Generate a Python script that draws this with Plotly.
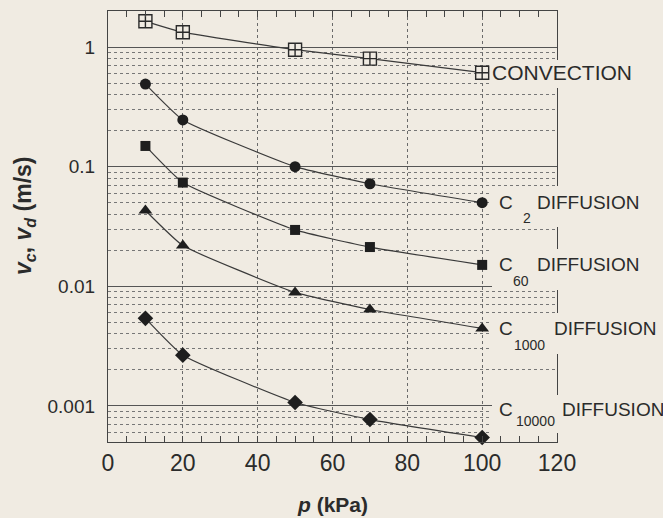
import numpy as np
import plotly.graph_objects as go

# ---- data ----
pressure_kpa = [10, 20, 50, 70, 100]
convection = [1.64, 1.33, 0.95, 0.80, 0.61]
c2_diffusion = [0.49, 0.246, 0.100, 0.072, 0.050]
c60_diffusion = [0.149, 0.0736, 0.0296, 0.0213, 0.0151]
c1000_diffusion = [0.043, 0.0219, 0.0089, 0.0064, 0.00445]
c10000_diffusion = [0.0054, 0.00266, 0.00107, 0.00077, 0.000545]

x_ticks = [0, 20, 40, 60, 80, 100, 120]
y_ticks = [0.001, 0.01, 0.1, 1]
y_tick_text = ["0.001", "0.01", "0.1", "1"]

BG = "#f0ebe2"
INK = "#2b2b2b"
FONT = "Liberation Sans, Arial, Helvetica, sans-serif"

# plot-area geometry in pixels
L, R, T, B = 108, 557, 11, 442
W, H = 663, 518

fig = go.Figure()

series = [
    ("CONVECTION", convection, "square-cross", 13, True),
    ("C2", c2_diffusion, "circle", 11, False),
    ("C60", c60_diffusion, "square", 10, False),
    ("C1000", c1000_diffusion, "triangle-up", 12, False),
    ("C10000", c10000_diffusion, "diamond", 12, False),
]
for name, vals, sym, size, hollow in series:
    fig.add_trace(go.Scatter(
        x=pressure_kpa, y=vals, mode="lines+markers", name=name,
        line=dict(color="#3a3a3a", width=1.2, shape="spline", smoothing=0.4),
        marker=dict(symbol=sym, size=size,
                    color=BG if hollow else "#1e1e1e",
                    line=dict(color="#2a2a2a", width=1.4 if hollow else 0)),
        cliponaxis=False, showlegend=False,
    ))

# minor log grid values
minor_vals = []
for e in range(-4, 1):
    for k in range(2, 10):
        v = k * 10.0 ** e
        if 0.0005 <= v <= 2.0:
            minor_vals.append(v)

fig.update_layout(
    width=W, height=H,
    margin=dict(l=L, r=W - R, t=T, b=H - B),
    paper_bgcolor=BG, plot_bgcolor=BG,
    font=dict(family=FONT, color=INK),
    xaxis=dict(
        range=[0, 120], tickvals=x_ticks, ticktext=[str(v) for v in x_ticks],
        tickfont=dict(size=23, color=INK),
        showgrid=True, gridcolor="#6a6a6a", griddash="dot", gridwidth=1,
        showline=True, linecolor="#444", linewidth=1.3, mirror="ticks",
        ticks="inside", ticklen=6, tickcolor="#444",
        minor=dict(dtick=5, ticks="inside", ticklen=6, tickcolor="#444", showgrid=False),
        zeroline=False,
    ),
    yaxis=dict(
        type="log", range=[np.log10(0.0005), np.log10(2)],
        tickvals=y_ticks, ticktext=y_tick_text,
        tickfont=dict(size=19, color=INK), ticklabelstandoff=8,
        showgrid=True, gridcolor="#555", gridwidth=1.3,
        showline=True, linecolor="#444", linewidth=1.3, mirror="ticks",
        ticks="",
        minor=dict(tickvals=minor_vals, showgrid=True, gridcolor="#777",
                   griddash="dot", gridwidth=1, ticks=""),
        zeroline=False,
    ),
)


def px2x(px):
    return (px - L) / (R - L)


def py2paper(py):
    return (B - py) / (B - T)


# label covers (paper-coloured boxes behind the series labels)
for top, bot in [(60, 88), (186, 227), (249, 290), (313, 354), (395, 433)]:
    fig.add_shape(type="rect", xref="paper", yref="paper",
                  x0=px2x(492), x1=1.3, y0=py2paper(bot), y1=py2paper(top),
                  fillcolor=BG, line=dict(width=0), layer="above")

lab_font = dict(family=FONT, size=19, color=INK)
sub_font = dict(family=FONT, size=14, color=INK)


def ann(xpx, y, text, font, yshift=0):
    fig.add_annotation(x=px2x(xpx), y=y, xref="paper", yref="y", text=text,
                       showarrow=False, xanchor="left", yanchor="middle",
                       font=font, yshift=yshift)


ann(490, np.log10(convection[-1]), "CONVECTION", dict(family=FONT, size=21, color=INK))

label_rows = [
    (c2_diffusion[-1], "2", 521, -15, 535, 0),
    (c60_diffusion[-1], "60", 511, -16, 535, 0),
    (c1000_diffusion[-1], "1000", 512, -17, 552, 0),
    (0.001, "10000", 514, -11, 560, -4),
]
for yv, sub, xsub, subshift, xdiff, ys in label_rows:
    ann(497, np.log10(yv), "C", lab_font, ys)
    ann(xsub, np.log10(yv), sub, sub_font, ys + subshift)
    ann(xdiff, np.log10(yv), "DIFFUSION", lab_font, ys)

# axis titles
fig.add_annotation(
    xref="paper", yref="paper", x=px2x(24), y=py2paper(216),
    text="<b><i>v</i></b><sub><b><i>c</i></b></sub><b>, <i>v</i></b><sub><b><i>d</i></b></sub><b> (m/s)</b>",
    textangle=-90, showarrow=False, xanchor="center", yanchor="middle",
    font=dict(family=FONT, size=23, color=INK),
)
fig.add_annotation(
    xref="paper", yref="paper", x=0.5, y=py2paper(504),
    text="<b><i>p</i> (kPa)</b>", showarrow=False, xanchor="center", yanchor="middle",
    font=dict(family=FONT, size=21, color=INK),
)

fig.write_html("out.html", config={"displayModeBar": False},
               post_script="document.body.style.margin='0';document.body.style.background='%s';" % BG)
